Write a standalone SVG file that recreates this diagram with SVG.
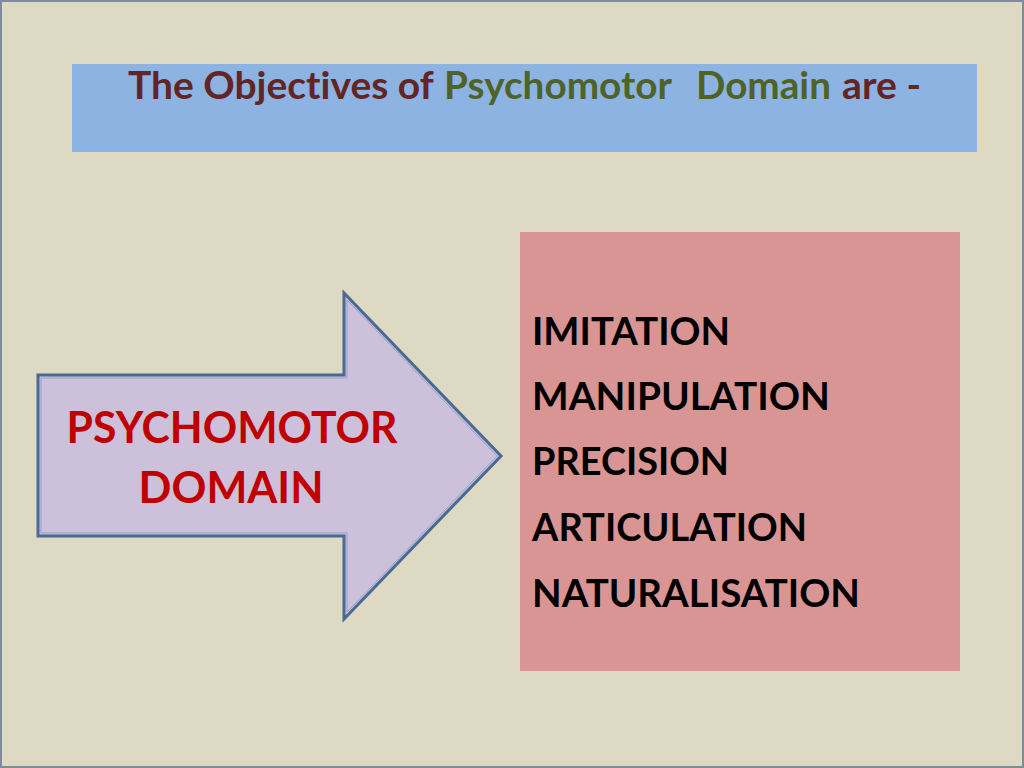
<svg xmlns="http://www.w3.org/2000/svg" width="1024" height="768" viewBox="0 0 1024 768">
<style>
.t{font-family:Lato,"Open Sans","Liberation Sans",sans-serif;font-weight:bold;font-variant-ligatures:none;}
.dr{fill:#632523;}
.gr{fill:#4F6228;}
.item{fill:#000000;font-size:39px;}
.red{fill:#C00000;font-size:43px;}
</style>
<rect x="0" y="0" width="1024" height="768" fill="#DDD9C3"/>
<rect x="1" y="1" width="1022" height="766" fill="none" stroke="#7F8C9C" stroke-width="2"/>
<g id="title">
<rect x="72" y="64" width="905" height="88" fill="#8DB3E2"/>
<text class="t" font-size="38" y="99">
<tspan class="dr" x="128" textLength="305" lengthAdjust="spacingAndGlyphs">The Objectives of</tspan>
<tspan class="gr" x="444" textLength="227" lengthAdjust="spacingAndGlyphs">Psychomotor</tspan>
<tspan class="gr" x="696" textLength="135" lengthAdjust="spacingAndGlyphs">Domain</tspan>
<tspan class="dr" x="842" textLength="79" lengthAdjust="spacingAndGlyphs">are -</tspan>
</text>
</g>
<g id="arrow">
<polygon points="38,375 344,375 344,293 501,456 344,619 344,536 38,536" fill="#CCC0DA" stroke="#4A6A95" stroke-width="3" stroke-linejoin="miter"/>
<polygon points="41,378 347,378 347,300 497,456 347,612 347,533 41,533" fill="none" stroke="#8FA6C4" stroke-width="1"/>
<text class="t red" x="232" y="443" text-anchor="middle" textLength="331" lengthAdjust="spacingAndGlyphs">PSYCHOMOTOR</text>
<text class="t red" x="231" y="503" text-anchor="middle" textLength="185" lengthAdjust="spacingAndGlyphs">DOMAIN</text>
</g>
<g id="objectives">
<rect x="520" y="232" width="440" height="439" fill="#D99594"/>
<text class="t item" x="532" y="345" textLength="198" lengthAdjust="spacingAndGlyphs">IMITATION</text>
<text class="t item" x="532" y="410" textLength="298" lengthAdjust="spacingAndGlyphs">MANIPULATION</text>
<text class="t item" x="532" y="475" textLength="197" lengthAdjust="spacingAndGlyphs">PRECISION</text>
<text class="t item" x="532" y="541" textLength="275" lengthAdjust="spacingAndGlyphs">ARTICULATION</text>
<text class="t item" x="532" y="607" textLength="328" lengthAdjust="spacingAndGlyphs">NATURALISATION</text>
</g>
</svg>
